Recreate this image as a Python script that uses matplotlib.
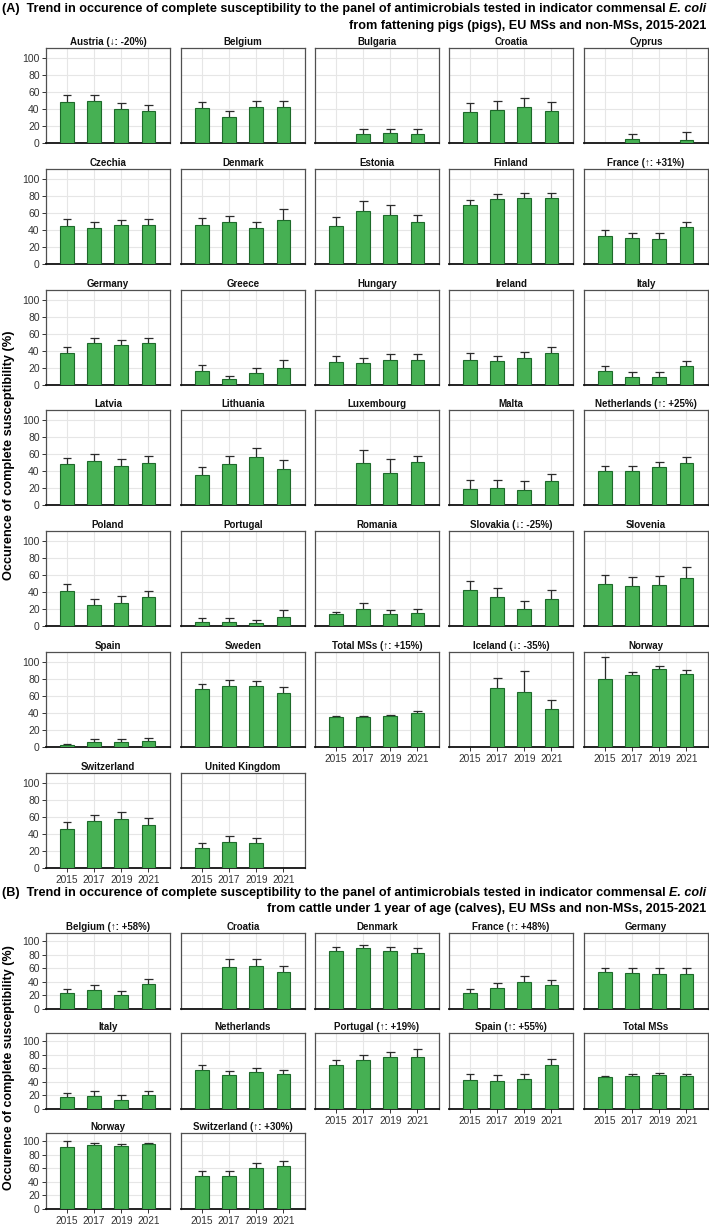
import numpy as np
import matplotlib
matplotlib.use("Agg")
import matplotlib.pyplot as plt

nan = np.nan
YEARS = [2015, 2017, 2019, 2021]
YTICKS = [0, 20, 40, 60, 80, 100]

# (A) fattening pigs
PIGS_NAMES = [
    "Austria (↓: -20%)", "Belgium", "Bulgaria", "Croatia", "Cyprus",
    "Czechia", "Denmark", "Estonia", "Finland", "France (↑: +31%)",
    "Germany", "Greece", "Hungary", "Ireland", "Italy",
    "Latvia", "Lithuania", "Luxembourg", "Malta", "Netherlands (↑: +25%)",
    "Poland", "Portugal", "Romania", "Slovakia (↓: -25%)", "Slovenia",
    "Spain", "Sweden", "Total MSs (↑: +15%)", "Iceland (↓: -35%)", "Norway",
    "Switzerland", "United Kingdom",
]
PIGS_VALUES = [
    [48, 50, 40, 38], [41, 31, 42, 42], [nan, 11, 12, 11], [37, 39, 42, 38], [nan, 5, nan, 4],
    [45, 42, 46, 46], [46, 49, 42, 52], [45, 63, 58, 50], [70, 77, 78, 78], [33, 31, 30, 44],
    [38, 50, 47, 49], [17, 7, 14, 20], [27, 26, 29, 30], [30, 28, 32, 38], [16, 10, 10, 22],
    [48, 52, 46, 50], [35, 48, 57, 43], [nan, 50, 38, 51], [19, 20, 18, 28], [40, 40, 45, 50],
    [41, 25, 27, 34], [5, 5, 4, 11], [14, 20, 14, 15], [42, 34, 20, 32], [49, 47, 48, 57],
    [2, 6, 6, 7], [68, 72, 72, 64], [35, 35, 36, 40], [nan, 69, 65, 45], [80, 85, 92, 86],
    [46, 55, 58, 51], [23, 31, 29, nan],
]
PIGS_UPPER = [
    [56, 57, 47, 45], [48, 38, 49, 49], [nan, 17, 17, 17], [47, 50, 53, 48], [nan, 11, nan, 13],
    [53, 49, 52, 53], [54, 57, 49, 65], [55, 74, 69, 58], [76, 83, 84, 84], [40, 37, 36, 50],
    [45, 56, 53, 56], [24, 11, 20, 30], [34, 32, 36, 37], [38, 34, 39, 45], [22, 15, 15, 28],
    [56, 60, 54, 58], [45, 58, 67, 53], [nan, 65, 54, 58], [29, 30, 28, 36], [46, 46, 51, 57],
    [49, 32, 35, 41], [9, 9, 7, 19], [17, 27, 19, 20], [53, 45, 29, 42], [60, 58, 59, 69],
    [4, 9, 9, 11], [74, 79, 78, 71], [37, 37, 38, 42], [nan, 81, 90, 56], [106, 89, 95, 91],
    [54, 63, 66, 59], [29, 38, 35, nan],
]

# (B) calves
CALVES_NAMES = [
    "Belgium (↑: +58%)", "Croatia", "Denmark", "France (↑: +48%)", "Germany",
    "Italy", "Netherlands", "Portugal (↑: +19%)", "Spain (↑: +55%)", "Total MSs",
    "Norway", "Switzerland (↑: +30%)",
]
CALVES_VALUES = [
    [23, 28, 20, 37], [nan, 62, 63, 54], [86, 90, 86, 83], [24, 31, 40, 36], [54, 53, 52, 52],
    [17, 19, 14, 20], [58, 50, 54, 52], [65, 72, 77, 77], [43, 42, 44, 65], [47, 49, 50, 49],
    [91, 95, 93, 96], [48, 48, 60, 63],
]
CALVES_UPPER = [
    [29, 35, 26, 44], [nan, 73, 74, 64], [92, 94, 92, 90], [30, 38, 48, 43], [61, 60, 60, 60],
    [23, 26, 21, 27], [65, 56, 60, 58], [72, 79, 84, 89], [52, 50, 52, 73], [49, 52, 53, 52],
    [100, 98, 96, 98], [56, 56, 68, 71],
]

TITLE_A = ("(A)  Trend in occurence of complete susceptibility to the panel of antimicrobials tested in indicator commensal",
           "from fattening pigs (pigs), EU MSs and non-MSs, 2015-2021")
TITLE_B = ("(B)  Trend in occurence of complete susceptibility to the panel of antimicrobials tested in indicator commensal",
           "from cattle under 1 year of age (calves), EU MSs and non-MSs, 2015-2021")
YLABEL = "Occurence of complete susceptibility (%)"

W, H = 709, 1228
plt.rcParams["font.family"] = ["Liberation Sans", "DejaVu Sans"]

FILL, EDGE, GRID = "#46b053", "#1d6a2a", "#e6e6e6"
COL_X = [46, 181, 315, 449, 584]
PANEL_W = 124

fig = plt.figure(figsize=(W / 100, H / 100), dpi=100)
R = fig.canvas.get_renderer()


def panel(x0, base, h, name, vals, upper, ylab, xlab):
    ax = fig.add_axes([x0 / W, 1 - base / H, PANEL_W / W, h / H])
    yrs = np.array(YEARS, dtype=float)
    v = np.array(vals, dtype=float)
    u = np.array(upper, dtype=float)
    ok = ~np.isnan(v)
    ax.vlines(yrs[ok], v[ok], u[ok], color="#2b2b2b", lw=0.9, zorder=2)
    ax.hlines(u[ok], yrs[ok] - 0.33, yrs[ok] + 0.33, color="#2b2b2b", lw=0.9, zorder=2)
    ax.bar(yrs[ok], v[ok], width=1.0, color=FILL, edgecolor=EDGE, lw=0.8, zorder=3)
    ax.set_xlim(2013.45, 2022.6)
    ax.set_ylim(0, 112)
    ax.set_xticks(YEARS)
    ax.set_yticks(YTICKS)
    ax.grid(True, color=GRID, lw=0.8, zorder=0)
    ax.set_axisbelow(True)
    for s in ("top", "left", "right"):
        ax.spines[s].set_color("#505050")
        ax.spines[s].set_linewidth(0.9)
    ax.spines["bottom"].set_color("#111111")
    ax.spines["bottom"].set_linewidth(1.3)
    ax.tick_params(axis="y", length=3, width=0.7, color="#333", labelsize=7.5,
                   labelcolor="#333", pad=1.5, left=ylab, labelleft=ylab)
    ax.tick_params(axis="x", length=3, width=0.7, color="#333", labelsize=7.3,
                   labelcolor="#333", pad=2, bottom=xlab, labelbottom=xlab)
    ax.set_title(name, fontsize=7, fontweight="bold", pad=2.3, color="#111")
    return ax


def section(names_, values, uppers, bases, h):
    n = len(names_)
    nrows = len(bases)
    for i in range(n):
        r, c = divmod(i, 5)
        # lowest panel of each column carries the year labels
        last_row = max(rr for rr in range(nrows) if rr * 5 + c < n)
        panel(COL_X[c], bases[r], h, names_[i], values[i], uppers[i], c == 0, r == last_row)


def title(y1, y2, lines, left=3, right=706):
    it = fig.text(right / W, 1 - y1 / H, "E. coli", ha="right", va="center",
                  fontweight="bold", fontstyle="italic")
    main = fig.text(0, 1 - y1 / H, lines[0], ha="right", va="center", fontweight="bold")
    sub = fig.text(right / W, 1 - y2 / H, lines[1], ha="right", va="center", fontweight="bold")
    size = 9.0
    for _ in range(4):
        for t in (it, main, sub):
            t.set_fontsize(size)
        x0 = it.get_window_extent(R).x0
        main.set_x((x0 - 3) / W)
        span = right - main.get_window_extent(R).x0
        size *= (right - left) / span


def ylabel(yc, length, size=9):
    t = fig.text(9 / W, 1 - yc / H, YLABEL, rotation=90, ha="center", va="center",
                 fontsize=size, fontweight="bold")
    for _ in range(3):
        t.set_fontsize(t.get_fontsize() * length / t.get_window_extent(R).height)


section(PIGS_NAMES, PIGS_VALUES, PIGS_UPPER, [143, 264, 385, 505, 626, 747, 868], 95)
section(CALVES_NAMES, CALVES_VALUES, CALVES_UPPER, [1009, 1109, 1209], 76)

title(9, 26, TITLE_A)
title(893, 909, TITLE_B)

ylabel(455, 250)
ylabel(1068, 245)

fig.savefig("out.png", dpi=100)
